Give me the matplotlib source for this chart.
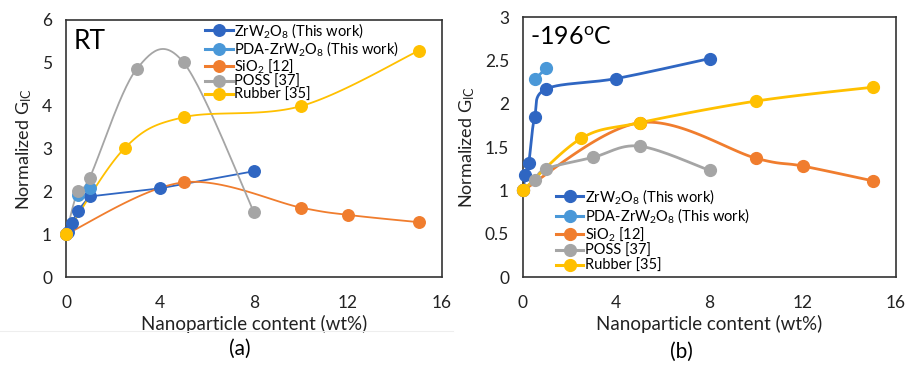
import numpy as np
import matplotlib
matplotlib.use('Agg')
import matplotlib.pyplot as plt

plt.rcParams['font.family'] = ['Lato', 'DejaVu Sans']
plt.rcParams['mathtext.fontset'] = 'custom'
plt.rcParams['mathtext.rm'] = 'Lato'
plt.rcParams['mathtext.it'] = 'Lato:italic'

# ---- data ----
names = [r'ZrW$_2$O$_8$ (This work)', r'PDA-ZrW$_2$O$_8$ (This work)',
         r'SiO$_2$ [12]', 'POSS [37]', 'Rubber [35]']
colors = ['#2F66C2', '#4A98D8', '#F07D2E', '#A5A5A5', '#FFC000']

zr_x = [0, 0.1, 0.25, 0.5, 1, 4, 8]
zr_rt = [1, 1.05, 1.26, 1.55, 1.88, 2.07, 2.47]
zr_cryo = [1, 1.18, 1.32, 1.85, 2.17, 2.29, 2.52]

pda_x = [0.5, 1]
pda_rt = [1.92, 2.07]
pda_cryo = [2.28, 2.41]

sio2_x = [0, 5, 10, 12, 15]
sio2_rt = [1, 2.21, 1.62, 1.45, 1.28]
sio2_cryo = [1, 1.78, 1.37, 1.28, 1.11]

poss_x = [0, 0.5, 1, 3, 5, 8]
poss_rt = [1, 2.01, 2.31, 4.85, 5.01, 1.51]
poss_cryo = [1, 1.12, 1.25, 1.38, 1.51, 1.23]

rub_x = [0, 2.5, 5, 10, 15]
rub_rt = [1, 3.01, 3.73, 3.99, 5.28]
rub_cryo = [1, 1.60, 1.78, 2.03, 2.19]


def smooth(x, y, n=30):
    # excel-like smoothed line (catmull-rom bezier)
    p = np.column_stack([x, y]).astype(float)
    p = np.vstack([p[0], p, p[-1]])
    out = []
    t = np.linspace(0, 1, n)[:, None]
    for i in range(1, len(p) - 2):
        p0, p3 = p[i], p[i + 1]
        c1 = p0 + (p[i + 1] - p[i - 1]) / 6
        c2 = p3 - (p[i + 2] - p[i]) / 6
        seg = ((1 - t) ** 3) * p0 + 3 * ((1 - t) ** 2) * t * c1 + 3 * (1 - t) * t ** 2 * c2 + t ** 3 * p3
        out.append(seg)
    out = np.vstack(out)
    return out[:, 0], out[:, 1]


fig = plt.figure(figsize=(9.06, 3.66), dpi=100)
axL = fig.add_axes([66 / 906, 89 / 366, 376 / 906, 257 / 366])
axR = fig.add_axes([523 / 906, 89 / 366, 373 / 906, 260 / 366])

seriesL = [(zr_x, zr_rt, False), (pda_x, pda_rt, False), (sio2_x, sio2_rt, True),
           (poss_x, poss_rt, True), (rub_x, rub_rt, True)]
seriesR = [(zr_x, zr_cryo, True), (pda_x, pda_cryo, True), (sio2_x, sio2_cryo, True),
           (poss_x, poss_cryo, True), (rub_x, rub_cryo, True)]

for ax, series, lw, ms in [(axL, seriesL, 1.3, 8.3), (axR, seriesR, 2.0, 8.5)]:
    for (x, y, sm), c, nm in zip(series, colors, names):
        if sm:
            xs, ys = smooth(x, y)
        else:
            xs, ys = x, y
        ax.plot(xs, ys, color=c, lw=lw, zorder=2, clip_on=False)
        ax.plot(x, y, 'o', color=c, ms=ms, zorder=3, clip_on=False)
        ax.plot([], [], '-o', color=c, lw=2.2, ms=ms, label=nm)

axL.set_ylim(0, 6)
axL.set_yticks(range(0, 7))
axR.set_ylim(0, 3)
axR.set_yticks([0, 0.5, 1, 1.5, 2, 2.5, 3])
axR.set_yticklabels(['0', '0.5', '1', '1.5', '2', '2.5', '3'])

for ax in (axL, axR):
    ax.set_xlim(0, 16)
    ax.set_xticks([0, 4, 8, 12, 16])
    ax.tick_params(length=0, labelsize=12.5, colors='#222222')
    ax.tick_params(axis='x', pad=13)
    ax.tick_params(axis='y', pad=10)
    for s in ax.spines.values():
        s.set_color('#333333')
        s.set_linewidth(1.2)
    ax.set_xlabel('Nanoparticle content (wt%)', fontsize=13.5, color='#222222', labelpad=3)
    ax.set_ylabel('Normalized G$_{\\mathregular{IC}}$', fontsize=13, color='#222222', labelpad=6)

axL.text(0.02, 0.915, 'RT', transform=axL.transAxes, fontsize=19, va='center')
axR.text(0.02, 0.92, '-196$^{\\mathregular{o}}$C', transform=axR.transAxes, fontsize=18, va='center')

axL.legend(loc='upper left', bbox_to_anchor=(0.36, 1.01), frameon=False, fontsize=10.5,
           handlelength=1.9, handletextpad=0.1, labelspacing=-0.04, borderaxespad=0.1,
           borderpad=0.15)
axR.legend(loc='lower left', bbox_to_anchor=(0.08, 0.005), frameon=False, fontsize=10.5,
           handlelength=1.9, handletextpad=0.1, labelspacing=0.04, borderaxespad=0.1,
           borderpad=0.1)

fig.add_artist(plt.Line2D([0, 0.5], [1 - 331 / 366] * 2, color='#eeeeee', lw=0.8))
fig.text(240 / 906, 1 - 349 / 366, '(a)', fontsize=15, ha='center', va='center')
fig.text(681 / 906, 1 - 352 / 366, '(b)', fontsize=15, ha='center', va='center')

fig.savefig('out.png', dpi=100)
